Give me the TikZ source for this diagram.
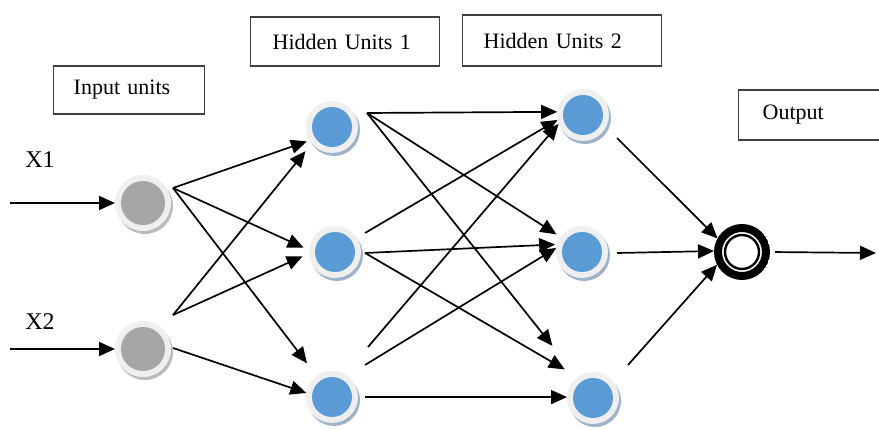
\documentclass[tikz,border=0pt]{standalone}
\usepackage{fontspec}
\setmainfont{Liberation Serif}
\usetikzlibrary{arrows.meta,shadows}
\definecolor{nodeblue}{HTML}{5B9BD5}
\definecolor{nodegray}{HTML}{A6A6A6}
\definecolor{ringgray}{HTML}{EFEFEF}
\definecolor{shadblue}{HTML}{9EB2C9}
\definecolor{shadgray}{HTML}{BBBBBB}
\definecolor{boxline}{HTML}{3F3F3F}
\begin{document}
\begin{tikzpicture}[x=1pt,y=-1pt,
  inunit/.style={circle,minimum size=56pt,inner sep=0pt,outer sep=0pt,fill=ringgray,
     drop shadow={shadow xshift=2pt,shadow yshift=-3pt,fill=shadgray,opacity=1},
     path picture={\fill[nodegray] (path picture bounding box.center) circle (22pt);}},
  hidunit/.style={circle,minimum size=52pt,inner sep=0pt,outer sep=0pt,fill=ringgray,
     drop shadow={shadow xshift=2pt,shadow yshift=-3pt,fill=shadblue,opacity=1},
     path picture={\fill[nodeblue] (path picture bounding box.center) circle (20pt);}},
  outunit/.style={circle,minimum size=56pt,inner sep=0pt,outer sep=0pt,fill=white,
     path picture={\draw[line width=8pt] (path picture bounding box.center) circle (24pt);
                   \draw[line width=2.4pt] (path picture bounding box.center) circle (17pt);}},
  labbox/.style={draw=boxline,line width=1.4pt,anchor=west,align=left,inner ysep=0pt,
     font=\fontsize{22}{26}\selectfont},
  lbl/.style={font=\fontsize{24}{28}\selectfont},
  conn/.style={line width=1.7pt,-{Triangle[length=16pt,width=14pt]}}
]
\useasboundingbox (0,0) rectangle (879,430);

% label boxes
\node[labbox,inner xsep=20pt,text width=111pt,minimum height=48pt] (bin) at (53,90) {Input units};
\node[labbox,inner xsep=22pt,text width=145pt,minimum height=49pt] (bh1) at (250,41.5) {Hidden Units 1};
\node[labbox,inner xsep=21pt,text width=157pt,minimum height=51pt] (bh2) at (462,40.5) {Hidden Units 2};
\node[labbox,inner xsep=24pt,text width=112pt,minimum height=50pt] (bout) at (738,115) {Output};

\node[lbl] (lx1) at (40,160) {X1};
\node[lbl] (lx2) at (40,322) {X2};

% units
\node[inunit] (in1) at (143,203) {};
\node[inunit] (in2) at (143,349) {};
\node[hidunit] (h1a) at (332,127) {};
\node[hidunit] (h1b) at (335,252) {};
\node[hidunit] (h1c) at (332,397) {};
\node[hidunit] (h2a) at (583,115) {};
\node[hidunit] (h2b) at (582,252) {};
\node[hidunit] (h2c) at (593,398) {};
\node[outunit] (out) at (742,252) {};

% connector end points
\coordinate (x1s) at (10,203);
\coordinate (x2s) at (10,349);
\coordinate (i1o) at (173,188);
\coordinate (i2u) at (173,315);
\coordinate (i2l) at (173,348);
\coordinate (ha) at (367,113);
\coordinate (hbu) at (365,233);
\coordinate (hbl) at (365,253);
\coordinate (hcu) at (368,347);
\coordinate (hcm) at (365,365);
\coordinate (hcl) at (365,397);
\coordinate (gao) at (617,138);
\coordinate (gbo) at (617,253);
\coordinate (gco) at (628,365);
\coordinate (yend) at (876,253);

% connectors
\draw[conn] (x1s) -- (in1.west);
\draw[conn] (x2s) -- (in2.west);
\draw[conn,shorten >=3pt] (i1o) -- (h1a.211);
\draw[conn,shorten >=6pt] (i1o) -- (h1b.176);
\draw[conn,shorten >=16pt] (i1o) -- (h1c.126);
\draw[conn,shorten >=10pt] (i2u) -- (h1a.219);
\draw[conn,shorten >=7pt] (i2u) -- (h1b.183);
\draw[conn] (i2l) -- (h1c.171);
\draw[conn] (ha) -- (h2a.173);
\draw[conn,shorten >=5pt] (ha) -- (h2b.145);
\draw[conn,shorten >=40pt] (ha) -- (h2c.127);
\draw[conn] (hbu) -- (h2a.191);
\draw[conn,shorten >=2pt] (hbl) -- (h2b.163);
\draw[conn,shorten >=15pt] (hbl) -- (h2c.126);
\draw[conn] (hcu) -- (h2a.200);
\draw[conn] (hcm) -- (h2b.171);
\draw[conn] (hcl) -- (h2c.178);
\draw[conn] (gao) -- (out.151);
\draw[conn] (gbo) -- (out.178);
\draw[conn] (gco) -- (out.207);
\draw[conn,shorten <=5pt] (out.east) -- (yend);
\end{tikzpicture}
\end{document}
